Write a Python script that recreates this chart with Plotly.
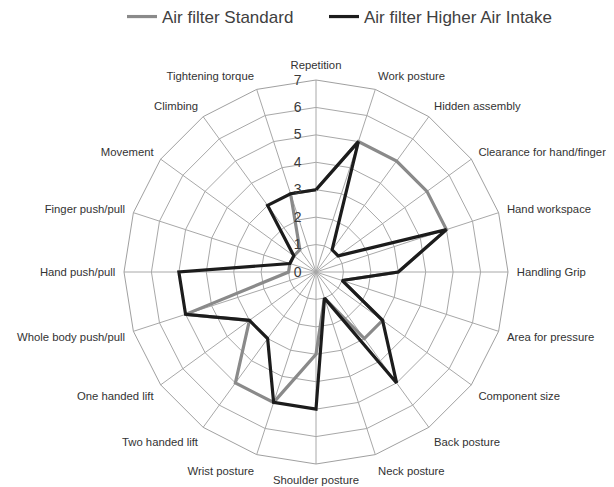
import plotly.graph_objects as go

categories = ["Repetition", "Work posture", "Hidden assembly", "Clearance for hand/finger",
              "Hand workspace", "Handling Grip", "Area for pressure", "Component size",
              "Back posture", "Neck posture", "Shoulder posture", "Wrist posture",
              "Two handed lift", "One handed lift", "Whole body push/pull", "Hand push/pull",
              "Finger push/pull", "Movement", "Climbing", "Tightening torque"]

standard = [3, 5, 5, 5, 5, 3, 1, 3, 3, 1, 3, 5, 5, 3, 5, 1, 1, 1, 1, 3]
higher_intake = [3, 5, 1, 1, 5, 3, 1, 3, 5, 1, 5, 5, 3, 3, 5, 5, 1, 1, 3, 3]

radial_ticks = [0, 1, 2, 3, 4, 5, 6, 7]

# page body has an 8px margin, so the figure is laid out 8px smaller
W, H = 606, 479
cx, cy, R = 308, 264, 192

fig = go.Figure()
fig.add_trace(go.Scatterpolar(
    r=standard + standard[:1], theta=categories + categories[:1],
    mode="lines", name="Air filter Standard", legend="legend",
    line=dict(color="#8a8a8a", width=3.2)))
fig.add_trace(go.Scatterpolar(
    r=higher_intake + higher_intake[:1], theta=categories + categories[:1],
    mode="lines", name="Air filter Higher Air Intake", legend="legend2",
    line=dict(color="#1c1c1c", width=3.2)))

legend_style = dict(orientation="h", xanchor="left", y=1 + 9 / H, yanchor="top",
                    font=dict(size=17, color="#404040"), itemwidth=30,
                    bgcolor="rgba(0,0,0,0)")

fig.update_layout(
    width=W, height=H,
    margin=dict(l=0, r=0, t=0, b=0, autoexpand=False),
    paper_bgcolor="white",
    font=dict(family="Liberation Sans", color="#333333"),
    showlegend=True,
    legend=dict(x=114 / W, **legend_style),
    legend2=dict(x=316 / W, **legend_style),
    polar=dict(
        domain=dict(x=[(cx - R) / W, (cx + R) / W],
                    y=[(H - cy - R) / H, (H - cy + R) / H]),
        bgcolor="white",
        gridshape="linear",
        angularaxis=dict(rotation=90, direction="clockwise",
                         showline=True, linecolor="#a0a0a0", linewidth=1,
                         gridcolor="#a8a8a8", gridwidth=1,
                         ticks="outside", ticklen=6, tickcolor="rgba(0,0,0,0)",
                         tickfont=dict(size=11.3, color="#333333")),
        radialaxis=dict(range=[0, 7], tickvals=radial_ticks, ticktext=[str(v) for v in radial_ticks],
                        angle=90, tickangle=90, showline=False,
                        ticks="outside", ticklen=9, tickcolor="rgba(0,0,0,0)",
                        gridcolor="#a8a8a8", gridwidth=1,
                        tickfont=dict(size=14, color="#3a3a3a"),
                        side="counterclockwise"),
    ),
)

fig.write_html("out.html")
